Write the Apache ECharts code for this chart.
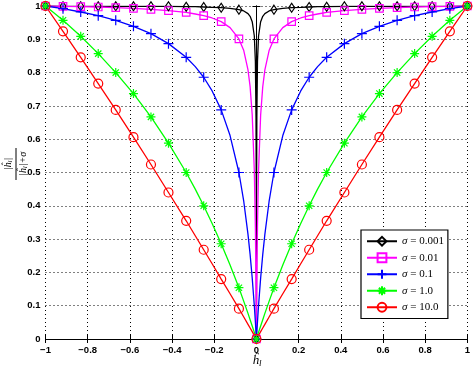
<!DOCTYPE html>
<html><head><meta charset="utf-8">
<script src="https://cdn.jsdelivr.net/npm/echarts@6/dist/echarts.min.js"></script>
<style>html,body{margin:0;padding:0;background:#fff}#c{width:473px;height:371px}</style>
</head><body><div id="c"></div>
<script>
// marker positions
const xMarks = [-1,-0.917,-0.833,-0.75,-0.667,-0.583,-0.5,-0.417,-0.333,-0.25,-0.167,-0.083,0,0.083,0.167,0.25,0.333,0.417,0.5,0.583,0.667,0.75,0.833,0.917,1];
// extra curve points (no marker)
const xFine = [-0.29,-0.21,-0.125,-0.06,-0.04,-0.03,-0.02,-0.01,-0.005,-0.002,-0.001,-0.0005,0.0005,0.001,0.002,0.005,0.01,0.02,0.03,0.04,0.06,0.125,0.21,0.29];

const sigmaNames = ['σ = 0.001','σ = 0.01','σ = 0.1','σ = 1.0','σ = 10.0'];

const yMarks001 = [1,0.999,0.999,0.999,0.999,0.999,0.999,0.999,0.998,0.997,0.995,0.989,0,0.989,0.995,0.997,0.998,0.999,0.999,0.999,0.999,0.999,0.999,0.999,1];
const yFine001 = [0.998,0.996,0.993,0.985,0.977,0.969,0.953,0.910,0.834,0.667,0.50,0.334,0.334,0.50,0.667,0.834,0.910,0.953,0.969,0.977,0.985,0.993,0.996,0.998];

const yMarks01 = [1,0.999,0.998,0.997,0.995,0.993,0.990,0.986,0.981,0.971,0.953,0.901,0,0.901,0.953,0.971,0.981,0.986,0.990,0.993,0.995,0.997,0.998,0.999,1];
const yFine01 = [0.976,0.964,0.935,0.866,0.808,0.758,0.673,0.505,0.337,0.168,0.092,0.048,0.048,0.092,0.168,0.337,0.505,0.673,0.758,0.808,0.866,0.935,0.964,0.976];

const yMarks1 = [1,0.992,0.982,0.971,0.957,0.939,0.917,0.887,0.846,0.786,0.688,0.50,0,0.50,0.688,0.786,0.846,0.887,0.917,0.939,0.957,0.971,0.982,0.992,1];
const yFine1 = [0.818,0.745,0.611,0.413,0.314,0.254,0.183,0.10,0.052,0.022,0.011,0.0055,0.0055,0.011,0.022,0.052,0.10,0.183,0.254,0.314,0.413,0.611,0.745,0.818];

const yMarks10 = [1,0.957,0.909,0.857,0.80,0.737,0.667,0.588,0.50,0.40,0.286,0.154,0,0.154,0.286,0.40,0.50,0.588,0.667,0.737,0.80,0.857,0.909,0.957,1];
const yFine10 = [0.450,0.347,0.222,0.113,0.077,0.058,0.039,0.020,0.010,0.004,0.002,0.001,0.001,0.002,0.004,0.010,0.020,0.039,0.058,0.077,0.113,0.222,0.347,0.450];

const yMarks100 = [1,0.924,0.846,0.767,0.688,0.606,0.524,0.44,0.355,0.268,0.180,0.091,0,0.091,0.180,0.268,0.355,0.44,0.524,0.606,0.688,0.767,0.846,0.924,1];
const yFine100 = [0.31,0.226,0.136,0.066,0.044,0.033,0.022,0.011,0.0055,0.0022,0.0011,0.00055,0.00055,0.0011,0.0022,0.0055,0.011,0.022,0.033,0.044,0.066,0.136,0.226,0.31];

const xTicks = [-1,-0.8,-0.6,-0.4,-0.2,0,0.2,0.4,0.6,0.8,1];
const yTicks = [0,0.1,0.2,0.3,0.4,0.5,0.6,0.7,0.8,0.9,1];

function buildData(ym, yf){
  const pts = [];
  xMarks.forEach((x,i)=>pts.push({value:[x,ym[i]]}));
  xFine.forEach((x,i)=>pts.push({value:[x,yf[i]], symbol:'none'}));
  pts.sort((a,b)=>a.value[0]-b.value[0]);
  return pts;
}

const plusPath = 'path://M0,-5L0,5M-5,0L5,0';
const starPath = 'path://M0,-5L0,5M-5,0L5,0M-3.5,-3.5L3.5,3.5M-3.5,3.5L3.5,-3.5';
const specs = [
  {name:sigmaNames[0], c:'#000000', sym:'diamond', size:[6,9], ym:yMarks001, yf:yFine001},
  {name:sigmaNames[1], c:'#ff00ff', sym:'rect', size:7.5, ym:yMarks01, yf:yFine01},
  {name:sigmaNames[2], c:'#0000ff', sym:plusPath, size:10, ym:yMarks1, yf:yFine1},
  {name:sigmaNames[3], c:'#00ff00', sym:starPath, size:9, ym:yMarks10, yf:yFine10},
  {name:sigmaNames[4], c:'#ff0000', sym:'circle', size:9, ym:yMarks100, yf:yFine100}
];

const series = specs.map(s=>({
  type:'line', name:s.name, data:buildData(s.ym, s.yf),
  symbol:s.sym, symbolSize:s.size, showAllSymbol:true,
  lineStyle:{color:s.c, width:1.3},
  itemStyle:{color:'rgba(255,255,255,0)', borderColor:s.c, borderWidth:1.2},
  emphasis:{disabled:true}, animation:false, z:2
}));

const tickFont = {fontFamily:'Liberation Sans', fontWeight:'bold', fontSize:9.5, color:'#000'};
const fmt = v => String(v).replace('-', '\u2212');

const chart = echarts.init(document.getElementById('c'), null, {renderer:'canvas'});
chart.setOption({
  animation:false,
  backgroundColor:'#fff',
  grid:{left:45.5, right:4.5, top:6, bottom:32, containLabel:false},
  xAxis:[
    {type:'value', min:-1, max:1, interval:0.2, position:'bottom',
     axisLine:{show:true, lineStyle:{color:'#000', width:1}},
     axisTick:{show:true, inside:true, length:4, lineStyle:{color:'#000'}},
     axisLabel:Object.assign({formatter:fmt, margin:6}, tickFont),
     splitLine:{show:true, lineStyle:{color:'#000', type:[1,3], width:1}}},
    {type:'value', min:-1, max:1, interval:0.2, position:'top',
     axisLine:{show:true, lineStyle:{color:'#000', width:1}},
     axisTick:{show:true, inside:true, length:4, lineStyle:{color:'#000'}},
     axisLabel:{show:false}, splitLine:{show:false}}
  ],
  yAxis:[
    {type:'value', min:0, max:1, interval:0.1, position:'left',
     axisLine:{show:true, lineStyle:{color:'#000', width:1}},
     axisTick:{show:true, inside:true, length:4, lineStyle:{color:'#000'}},
     axisLabel:Object.assign({formatter:v=>String(Math.round(v*10)/10), margin:5}, tickFont),
     splitLine:{show:true, lineStyle:{color:'#000', type:[1,3], width:1}}},
    {type:'value', min:0, max:1, interval:0.1, position:'right',
     axisLine:{show:true, lineStyle:{color:'#000', width:1}},
     axisTick:{show:true, inside:true, length:4, lineStyle:{color:'#000'}},
     axisLabel:{show:false}, splitLine:{show:false}}
  ],
  legend:{
    orient:'vertical', left:361, top:230, width:85,
    backgroundColor:'#fff', borderColor:'#000', borderWidth:1.2,
    padding:[5,4,5,5], itemGap:4, itemWidth:30, itemHeight:11,
    data:sigmaNames,
    formatter:n=>'{s|σ}' + n.slice(1),
    textStyle:{fontFamily:'Liberation Serif', fontSize:11, color:'#000', lineHeight:12.5,
      rich:{s:{fontFamily:'Liberation Serif', fontStyle:'italic', fontSize:11, lineHeight:12.5}}},
    selectedMode:false
  },
  graphic:[
    {type:'group', x:16, y:164, rotation:Math.PI/2, children:[
      {type:'text', x:0, y:-2, style:{text:'|ĥ{sub|l}|', align:'center', verticalAlign:'bottom',
        font:'italic 10px "Liberation Serif"', fill:'#000',
        rich:{sub:{font:'italic 7px "Liberation Serif"', padding:[4,0,0,0]}}}},
      {type:'line', shape:{x1:-16, y1:0, x2:16, y2:0}, style:{stroke:'#000', lineWidth:1}},
      {type:'text', x:0, y:2, style:{text:'|ĥ{sub|l}|+σ', align:'center', verticalAlign:'top',
        font:'italic 10px "Liberation Serif"', fill:'#000',
        rich:{sub:{font:'italic 7px "Liberation Serif"', padding:[4,0,0,0]}}}}
    ]},
    {type:'text', x:257, y:361, style:{text:'ĥ{sub|l}', align:'center', verticalAlign:'middle',
      font:'italic 13px "Liberation Serif"', fill:'#000',
      rich:{sub:{font:'italic 9px "Liberation Serif"', padding:[6,0,0,0]}}}}
  ],
  series:series
});
</script></body></html>
